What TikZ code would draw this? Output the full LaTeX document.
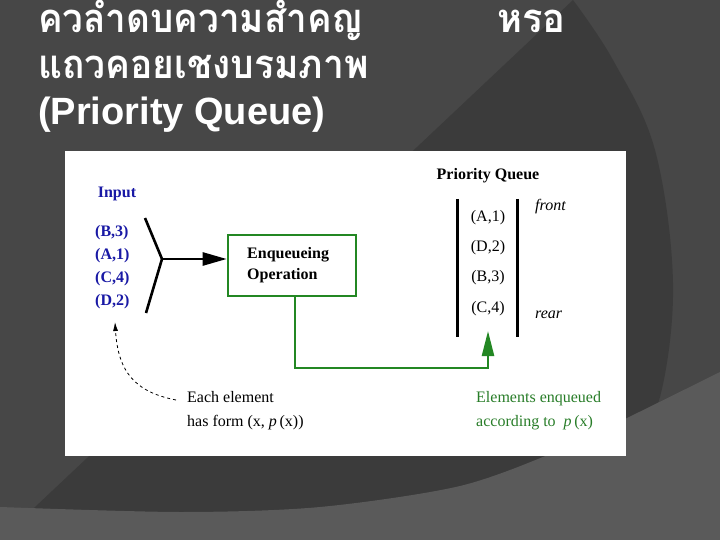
\documentclass[tikz,border=0pt]{standalone}
\usepackage{fontspec}
\setmainfont{Liberation Serif}
\newfontfamily\thaifont[Script=Thai]{Loma}
\newfontfamily\titlelat{Liberation Sans}
\usetikzlibrary{arrows.meta}
\definecolor{bgmid}{HTML}{474747}
\definecolor{bgdark}{HTML}{3B3B3B}
\definecolor{bglow}{HTML}{5A5A5A}
\definecolor{navy}{RGB}{25,25,165}
\definecolor{boxgreen}{RGB}{35,135,35}
\definecolor{txtgreen}{RGB}{40,125,40}
\tikzset{
  titletxt/.style={anchor=base west, text=white, inner sep=0pt},
  thaititle/.style={titletxt, font=\thaifont\bfseries\fontsize{40}{40}\selectfont},
  dtext/.style={inner sep=0pt, font=\fontsize{16}{20}\selectfont},
  inputtxt/.style={dtext, text=navy, font=\bfseries\fontsize{16}{20}\selectfont},
  qitem/.style={dtext},
  thickblack/.style={line width=2.6pt, black},
  greenline/.style={line width=2.4pt, boxgreen},
  qbar/.style={line width=3pt, black}
}
\begin{document}
\begin{tikzpicture}[x=1pt,y=-1pt]
\useasboundingbox (0,0) rectangle (720,540);
% background
\fill[bgmid] (0,0) rectangle (720,540);
\fill[bgdark] (0,0) -- (573,0)
  plot[smooth, tension=0.6] coordinates {(573,0) (613,60) (655,150) (673,283) (660,397) (630,450)}
  -- (600,540) -- (0,540) -- cycle;
\fill[bglow] plot[smooth, tension=0.5] coordinates {(0,507) (180,512) (320,507) (460,486) (560,450) (627,418) (720,372)}
  -- (720,540) -- (0,540) -- cycle;
% title
\node[thaititle] (title1) at (38,33) {\scalebox{0.92}[1]{ควลำดบความสำคญ}};
\node[thaititle] (title1b) at (497,33) {\scalebox{0.95}[1]{หรอ}};
\node[thaititle] (title2) at (38,79) {\scalebox{0.93}[1]{แถวคอยเชงบรมภาพ}};
\node[titletxt, font=\titlelat\bfseries\fontsize{38}{38}\selectfont] (title3) at (38,125) {(Priority Queue)};
% white panel
\fill[white] (65,151) rectangle (626,456);
% input
\node[inputtxt] (input) at (117,194) {Input};
\node[inputtxt, anchor=west] (b3) at (95,233) {(B,3)};
\node[inputtxt, anchor=west] (a1) at (95,256) {(A,1)};
\node[inputtxt, anchor=west] (c4) at (95,279) {(C,4)};
\node[inputtxt, anchor=west] (d2) at (95,302) {(D,2)};
% Y connector
\coordinate (ytop) at (145,218);
\coordinate (ymid) at (162,259);
\coordinate (ybot) at (146,313);
\draw[thickblack] (ytop) -- (ymid) -- (ybot);
% box
\node[draw=boxgreen, line width=2.6pt, minimum width=128pt, minimum height=61pt, inner sep=0pt] (enq) at (292,265.5) {};
\node[dtext, font=\bfseries\fontsize{16}{20}\selectfont, anchor=west, align=left] (enqtxt) at (247,265) {Enqueueing\\[1pt]Operation};
\draw[thickblack, -{Triangle[length=24pt,width=13pt]}] (ymid) -- (ymid -| enq.west);
% priority queue
\node[dtext, font=\bfseries\fontsize{16}{20}\selectfont] (pq) at (488,176) {Priority Queue};
\coordinate (lbt) at (457,199);
\coordinate (lbb) at (457,337);
\coordinate (rbt) at (517,199);
\coordinate (rbb) at (517,337);
\draw[qbar] (lbt) -- (lbb);
\draw[qbar] (rbt) -- (rbb);
\node[qitem] (qa1) at (488,218) {(A,1)};
\node[qitem] (qd2) at (488,248) {(D,2)};
\node[qitem] (qb3) at (488,278) {(B,3)};
\node[qitem] (qc4) at (488,309) {(C,4)};
\node[dtext, font=\itshape\fontsize{16}{20}\selectfont, anchor=west] (front) at (535,207) {front};
\node[dtext, font=\itshape\fontsize{16}{20}\selectfont, anchor=west] (rear) at (535,315) {rear};
% green feed
\coordinate (gtip) at (488,331);
\coordinate (gcorner) at (488,368);
\draw[greenline, -{Triangle[length=25pt,width=12pt]}] ([xshift=3pt]enq.south) |- (gcorner) -- (gtip);
% annotations
\node[dtext, anchor=west, align=left] (each) at (187,411) {Each element\\[4pt]has form (x,~\textit{p}\,(x))};
\node[dtext, anchor=west, align=left, text=txtgreen] (elem) at (476,411) {Elements enqueued\\[4pt]according to~~\textit{p}\,(x)};
\coordinate (dtip) at (115,322);
\draw[dashed, line width=0.8pt, -{Latex[length=9pt,width=5pt]}] ([xshift=-11pt,yshift=11pt]each.west) .. controls (135,392) and (118,372) .. (dtip);
\end{tikzpicture}
\end{document}
